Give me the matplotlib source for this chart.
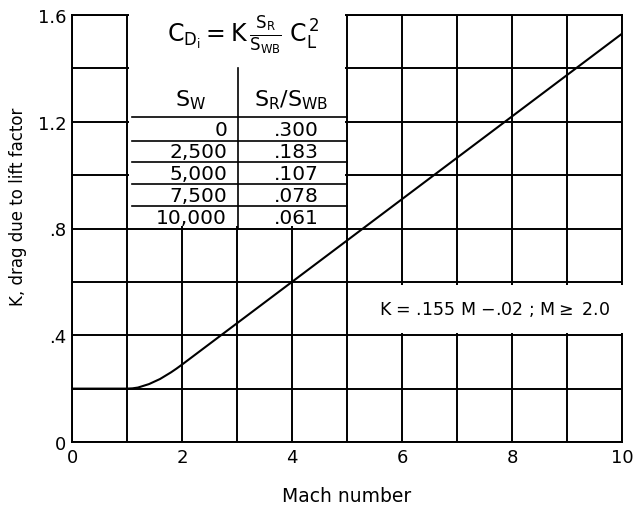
import numpy as np
import matplotlib.pyplot as plt

# K curve
mach = [0.0, 1.0, 1.1, 1.2, 1.4, 1.6, 1.8, 1.9, 2.0, 3.0, 4.0, 6.0, 8.0, 10.0]
k_factor = [0.2, 0.2, 0.201, 0.204, 0.217, 0.236, 0.261, 0.275, 0.29, 0.445, 0.60, 0.91, 1.22, 1.53]

# table of wing area vs ratio
s_w = ['0', '2,500', '5,000', '7,500', '10,000']
sr_swb = ['.300', '.183', '.107', '.078', '.061']

x_ticks = [0, 2, 4, 6, 8, 10]
y_ticks = [0, 0.4, 0.8, 1.2, 1.6]
y_tick_labels = ['0', '.4', '.8', '1.2', '1.6']

plt.rcParams['font.family'] = 'DejaVu Sans'

fig = plt.figure(figsize=(6.39, 5.10), dpi=100)
ax = fig.add_axes([0.1127, 0.1314, 0.8607, 0.8372])

# grid
for gx in np.arange(0, 11, 1):
    ax.axvline(gx, color='black', lw=1.4, zorder=1)
for gy in np.arange(0, 1.61, 0.2):
    ax.axhline(gy, color='black', lw=1.4, zorder=1)

ax.plot(mach, k_factor, color='black', lw=1.5, zorder=4)

ax.set_xlim(0, 10)
ax.set_ylim(0, 1.6)
ax.set_xticks(x_ticks)
ax.set_yticks(y_ticks)
ax.set_yticklabels(y_tick_labels)
ax.tick_params(length=0, labelsize=13, pad=4)
for s in ax.spines.values():
    s.set_linewidth(1.4)

ax.set_xlabel('Mach number', fontsize=13.5)
ax.set_ylabel('K, drag due to lift factor', fontsize=12)
ax.xaxis.set_label_coords(0.5, -0.103)
ax.yaxis.set_label_coords(-0.082, 0.553)

# white box behind the table
ax.add_patch(plt.Rectangle((1.04, 0.81), 3.92, 0.83, facecolor='white',
                           edgecolor='none', zorder=3, clip_on=False))
ax.text(3.11, 1.528,
        r'$\mathregular{C_{D_i} = K\,\frac{S_R}{S_{WB}}\;C_L^{\,2}}$',
        fontsize=17, ha='center', va='center', zorder=5)
ax.text(2.15, 1.285, r'$\mathregular{S_W}$', fontsize=16, ha='center', va='center', zorder=5)
ax.text(3.98, 1.285, r'$\mathregular{S_R/S_{WB}}$', fontsize=16, ha='center', va='center', zorder=5)
ax.plot([3.02, 3.02], [1.40, 0.8], color='black', lw=1.2, zorder=5)

row_lines = [1.217, 1.127, 1.049, 0.966, 0.884]
row_mid = [1.172, 1.088, 1.007, 0.925, 0.842]
for yl in row_lines:
    ax.plot([1.09, 5.0], [yl, yl], color='black', lw=1.2, zorder=5)
for i in range(len(s_w)):
    ax.text(2.82, row_mid[i], s_w[i], fontsize=14.5, ha='right', va='center', zorder=5)
    ax.text(4.07, row_mid[i], sr_swb[i], fontsize=14.5, ha='center', va='center', zorder=5)

# equation label box
ax.add_patch(plt.Rectangle((5.05, 0.41), 5.2, 0.18, facecolor='white',
                           edgecolor='none', zorder=3, clip_on=False))
ax.text(7.69, 0.5, r'K = .155 M $-$.02 ; M$\geq$ 2.0', fontsize=12.5,
        ha='center', va='center', zorder=5)

fig.savefig('out.png', dpi=100)
